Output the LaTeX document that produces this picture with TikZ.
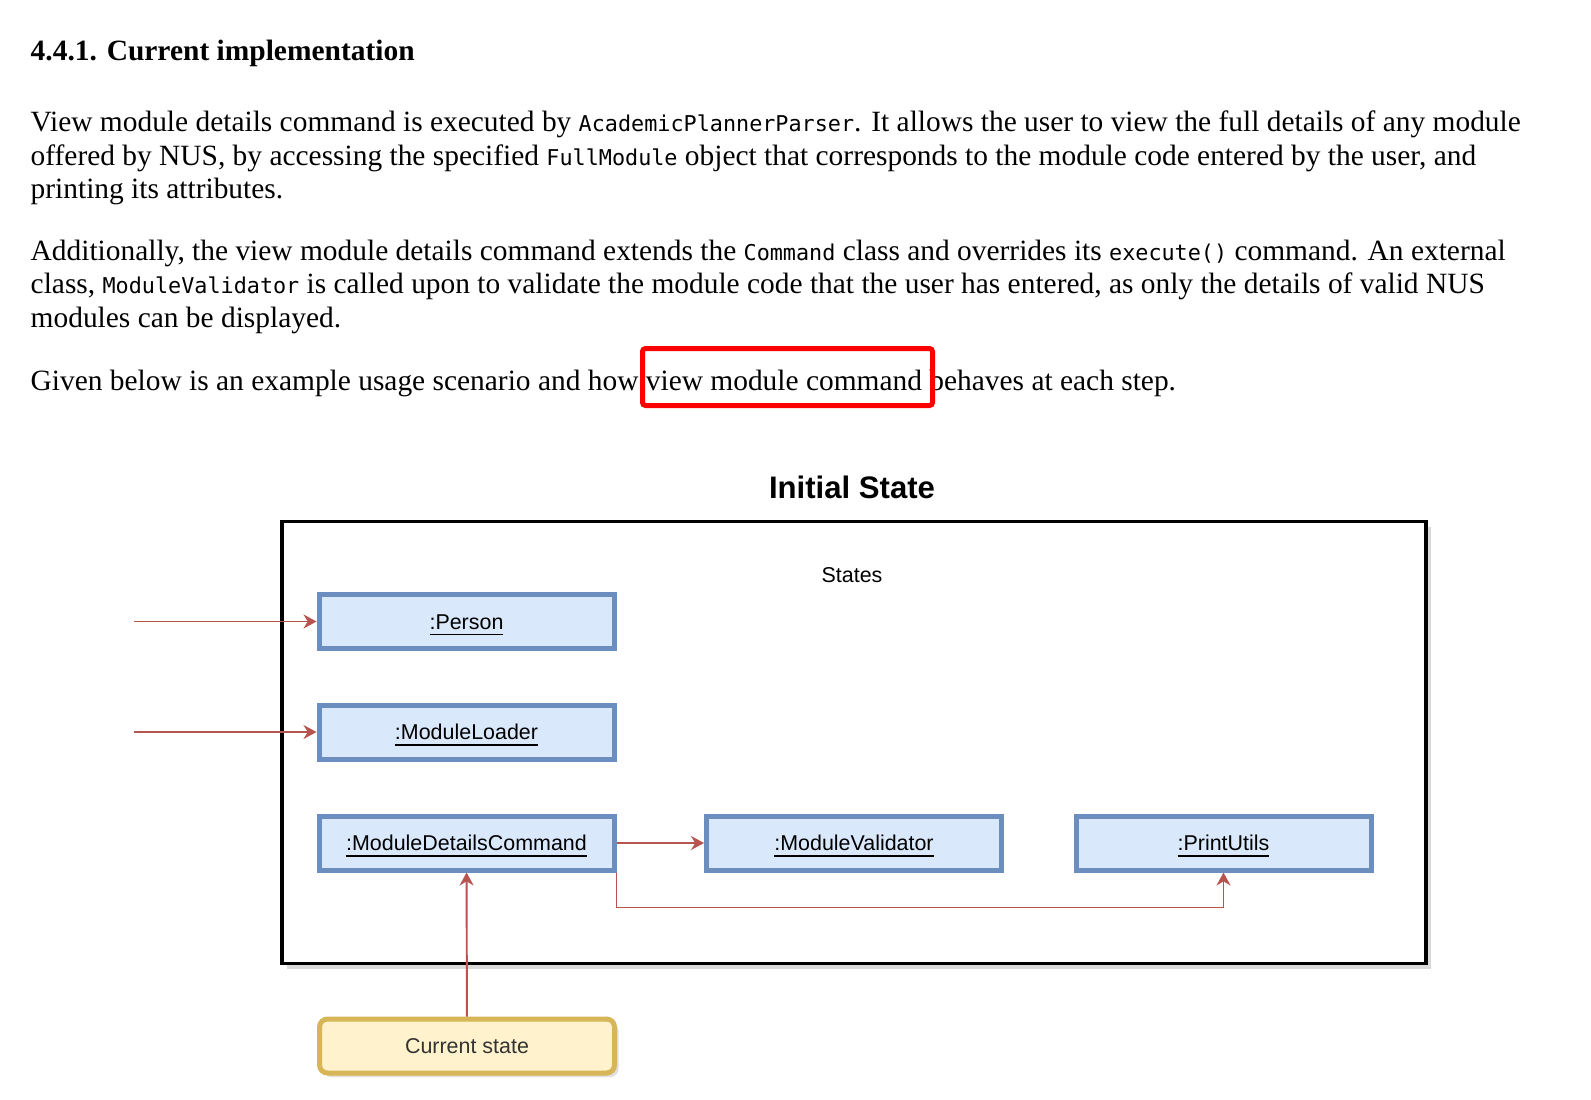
\documentclass[tikz,border=0pt]{standalone}
\usepackage{fontspec}
\setmainfont{Liberation Serif}
\setsansfont{Liberation Sans}
\setmonofont{DejaVu Sans Mono}
\usetikzlibrary{arrows.meta,shadows}

\definecolor{objfill}{HTML}{DAE8FC}
\definecolor{objline}{HTML}{6C8EBF}
\definecolor{notefill}{HTML}{FFF2CC}
\definecolor{noteline}{HTML}{D6B656}
\definecolor{linkred}{HTML}{B85450}

\newcommand{\code}[1]{{\fontsize{6.2}{7}\ttfamily #1}}

\begin{document}
\begin{tikzpicture}[x=1cm, y=-1cm, >={Stealth[length=0.13cm, width=0.14cm]},
    body/.style={anchor=base west, inner sep=0pt, font=\fontsize{8.37}{9.5}\selectfont},
    objbox/.style={draw=objline, fill=objfill, line width=1.42pt, minimum width=2.95cm,
        minimum height=0.54cm, inner sep=0pt, text height=4.37pt, text depth=0pt,
        font=\sffamily\fontsize{6.1}{7}\selectfont},
    link/.style={->, draw=linkred, line width=0.55pt}]
    \useasboundingbox (0,0) rectangle (15.91,10.99);

    % Text above the diagram
    \node[body, font=\bfseries\fontsize{8.38}{9.5}\selectfont] (head) at (0.30,0.60) {4.4.1. Current implementation};
    \node[body] (p1a) at (0.30,1.31) {View module details command is executed by \code{AcademicPlannerParser}. It allows the user to view the full details of any module};
    \node[body] (p1b) at (0.30,1.65) {offered by NUS, by accessing the specified \code{FullModule} object that corresponds to the module code entered by the user, and};
    \node[body] (p1c) at (0.30,1.98) {printing its attributes.};
    \node[body] (p2a) at (0.30,2.60) {Additionally, the view module details command extends the \code{Command} class and overrides its \code{execute()} command. An external};
    \node[body] (p2b) at (0.30,2.93) {class, \code{ModuleValidator} is called upon to validate the module code that the user has entered, as only the details of valid NUS};
    \node[body] (p2c) at (0.30,3.27) {modules can be displayed.};
    \node[body] (p3) at (0.30,3.90) {Given below is an example usage scenario and how view module command behaves at each step.};
    \draw[red, line width=1.42pt, rounded corners=0.03cm] (6.425,3.485) rectangle (9.325,4.055);

    % Diagram
    \node[font=\sffamily\bfseries\fontsize{8.85}{10}\selectfont] (title) at (8.52,4.87) {Initial State};
    \node[draw, line width=0.95pt, fill=white, minimum width=11.44cm, minimum height=4.42cm,
        drop shadow={shadow xshift=0.05cm, shadow yshift=-0.05cm, opacity=0.3}] (frame) at (8.54,7.425) {};
    \node[font=\sffamily\fontsize{6.1}{7}\selectfont] (states) at (8.52,5.75) {States};

    \node[objbox] (person) at (4.665,6.215) {\underline{:Person}};
    \node[objbox] (loader) at (4.665,7.32) {\underline{:ModuleLoader}};
    \node[objbox] (mdc) at (4.665,8.43) {\underline{:ModuleDetailsCommand}};
    \node[objbox] (mv) at (8.54,8.43) {\underline{:ModuleValidator}};
    \node[objbox] (pu) at (12.235,8.43) {\underline{:PrintUtils}};

    \node[objbox, draw=noteline, fill=notefill, rounded corners=0.08cm, text=black!80,
        drop shadow={shadow xshift=0.04cm, shadow yshift=-0.04cm, opacity=0.25}] (cs) at (4.67,10.46) {Current state};

    % Links
    \coordinate (inP) at (1.34,6.215);
    \coordinate (inL) at (1.34,7.32);
    \draw[link] (inP) -- (person);
    \draw[link] (inL) -- (loader);
    \draw[link] (mdc) -- (mv);
    \draw[link] (mdc.south east) -- ++(0,0.35) -| (pu.south);
    \draw[link] (cs) -- (mdc);
\end{tikzpicture}
\end{document}
